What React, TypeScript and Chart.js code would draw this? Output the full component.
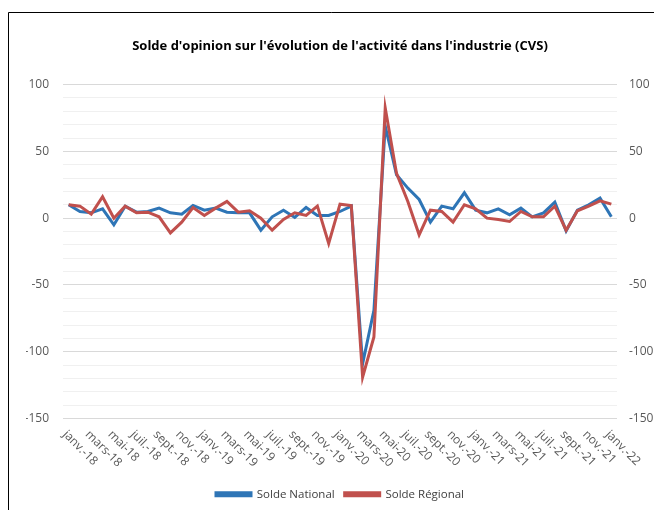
import React, { useEffect, useRef } from "react";
import { Chart, registerables } from "chart.js";

Chart.register(...registerables);

const categories: string[] = [
  "janv.-18", "févr.-18", "mars-18", "avr.-18", "mai-18", "juin-18", "juil.-18", "août-18", "sept.-18", "oct.-18", "nov.-18", "déc.-18",
  "janv.-19", "févr.-19", "mars-19", "avr.-19", "mai-19", "juin-19", "juil.-19", "août-19", "sept.-19", "oct.-19", "nov.-19", "déc.-19",
  "janv.-20", "févr.-20", "mars-20", "avr.-20", "mai-20", "juin-20", "juil.-20", "août-20", "sept.-20", "oct.-20", "nov.-20", "déc.-20",
  "janv.-21", "févr.-21", "mars-21", "avr.-21", "mai-21", "juin-21", "juil.-21", "août-21", "sept.-21", "oct.-21", "nov.-21", "déc.-21",
  "janv.-22",
];

const soldeNational: number[] = [
  10, 5, 4, 7, -5, 9, 4.5, 5, 7.5, 4, 3, 9.5,
  6, 7.5, 4.5, 4, 4, -9, 1, 6, 0.5, 8, 2, 2,
  5, 9, -109, -69, 69, 32.5, 22.5, 14, -3, 9, 7, 19,
  6, 4, 7, 2.5, 7.5, 1, 4, 12, -9.5, 6, 10, 15,
  1,
];

const soldeRegional: number[] = [
  10, 9, 3, 16, 0, 9, 4, 4.5, 1, -11, -3, 8,
  2, 7.5, 12.5, 4.5, 5.5, 0, -9, -1, 4, 2, 9, -19,
  10.5, 9.5, -119, -89, 82.5, 33.5, 12.5, -12.5, 6, 5, -3, 10,
  7, 0, -1, -2.5, 5, 1, 1, 9, -9, 5.5, 9, 13,
  10.5,
];

const seriesNames = ["Solde National", "Solde Régional"];
const titleText = "Solde d'opinion sur l'évolution de l'activité dans l'industrie (CVS)";
const yMin = -150;
const yMax = 100;

export default function App() {
  const ref = useRef<HTMLCanvasElement | null>(null);

  useEffect(() => {
    document.body.style.margin = "0";
    const canvas = ref.current;
    if (!canvas) return;

    const framePlugin = {
      id: "frame",
      beforeDraw(chart: any) {
        const ctx = chart.ctx;
        ctx.save();
        ctx.fillStyle = "#ffffff";
        ctx.fillRect(0, 0, chart.width, chart.height);
        ctx.strokeStyle = "#000000";
        ctx.lineWidth = 1;
        ctx.beginPath();
        ctx.moveTo(8.5, chart.height);
        ctx.lineTo(8.5, 12.5);
        ctx.lineTo(chart.width, 12.5);
        ctx.stroke();
        ctx.restore();
      },
      afterDraw(chart: any) {
        const ctx = chart.ctx;
        const xs = chart.scales.x;
        const top = chart.chartArea.bottom;
        ctx.save();
        ctx.fillStyle = "#595959";
        ctx.font = "12px 'Open Sans'";
        ctx.textAlign = "left";
        ctx.textBaseline = "middle";
        categories.forEach((lab, i) => {
          if (i % 2 !== 0) return;
          const x = xs.getPixelForValue(i);
          ctx.save();
          ctx.translate(x - 4, top + 14);
          ctx.rotate(Math.PI / 4);
          ctx.fillText(lab, 0, 0);
          ctx.restore();
        });
        ctx.restore();
      },
    };

    const tickCb = (v: any) => (Number(v) % 50 === 0 ? String(v) : "");
    const gridColor = (c: any) => (c.tick && c.tick.value % 50 === 0 ? "#d9d9d9" : "#f0f0f0");

    const chart = new Chart(canvas, {
      type: "line",
      data: {
        labels: categories,
        datasets: [
          {
            label: seriesNames[0],
            data: soldeNational,
            borderColor: "#2E75B6",
            backgroundColor: "#2E75B6",
            borderWidth: 3,
            pointRadius: 0,
            tension: 0,
            order: 1,
          },
          {
            label: seriesNames[1],
            data: soldeRegional,
            borderColor: "#C0504D",
            backgroundColor: "#C0504D",
            borderWidth: 3,
            pointRadius: 0,
            tension: 0,
            order: 0,
          },
        ],
      },
      options: {
        animation: false,
        responsive: false,
        devicePixelRatio: 1,
        layout: { padding: { left: 26, right: 0, top: 0, bottom: 0 } },
        plugins: {
          title: {
            display: true,
            text: titleText,
            color: "#000000",
            font: { family: "'Open Sans'", size: 13, weight: "bold" },
            padding: { top: 38, bottom: 31 },
          },
          legend: {
            position: "bottom",
            labels: {
              boxWidth: 35,
              boxHeight: 3,
              color: "#404040",
              font: { family: "'Open Sans'", size: 11.5 },
              padding: 10,
              sort: (a: any, b: any) => a.datasetIndex - b.datasetIndex,
            },
          },
          tooltip: { enabled: false },
        },
        scales: {
          x: {
            type: "category",
            offset: true,
            grid: { display: false },
            border: { display: false },
            ticks: { display: false },
            afterFit: (s: any) => {
              s.height = 60;
            },
          },
          y: {
            position: "left",
            min: yMin,
            max: yMax,
            grid: { color: gridColor, drawTicks: false },
            border: { display: false },
            ticks: {
              stepSize: 10,
              autoSkip: false,
              callback: tickCb,
              color: "#595959",
              font: { family: "'Open Sans'", size: 12 },
              padding: 14,
            },
            afterFit: (s: any) => {
              s.width = 37;
            },
          },
          y2: {
            position: "right",
            min: yMin,
            max: yMax,
            grid: { display: false, drawTicks: false },
            border: { display: false },
            ticks: {
              stepSize: 10,
              autoSkip: false,
              callback: tickCb,
              color: "#595959",
              font: { family: "'Open Sans'", size: 12 },
              padding: 12,
            },
            afterFit: (s: any) => {
              s.width = 37;
            },
          },
        },
      },
      plugins: [framePlugin],
    });

    return () => chart.destroy();
  }, []);

  return (
    <div style={{ width: 654, height: 510, position: "relative" }}>
      <canvas ref={ref} width={654} height={510} style={{ display: "block", width: 654, height: 510 }} />
    </div>
  );
}
